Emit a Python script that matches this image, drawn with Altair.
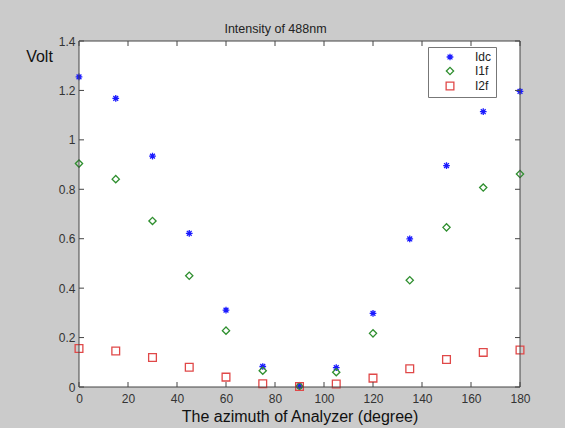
import altair as alt
import pandas as pd

angles = [0, 15, 30, 45, 60, 75, 90, 105, 120, 135, 150, 165, 180]
idc = [1.255, 1.168, 0.934, 0.622, 0.311, 0.083, 0.004, 0.078, 0.298, 0.599, 0.896, 1.114, 1.196]
i1f = [0.904, 0.841, 0.672, 0.450, 0.228, 0.066, 0.003, 0.060, 0.217, 0.432, 0.646, 0.807, 0.862]
i2f = [0.156, 0.146, 0.119, 0.080, 0.040, 0.013, 0.002, 0.012, 0.036, 0.074, 0.111, 0.140, 0.150]
series = ["Idc", "I1f", "I2f"]
colors = ["#1a1aff", "#2f8f2f", "#e04848"]
x_ticks = [0, 20, 40, 60, 80, 100, 120, 140, 160, 180]
y_ticks = [0, 0.2, 0.4, 0.6, 0.8, 1.0, 1.2, 1.4]

rows = []
for name, vals in zip(series, [idc, i1f, i2f]):
    for a, v in zip(angles, vals):
        rows.append({"angle": a, "volt": v, "series": name})
df = pd.DataFrame(rows)

W, H = 441, 346
FONT = "Liberation Sans"
asterisk = "M-1,0L1,0M0,-1L0,1M-0.72,-0.72L0.72,0.72M-0.72,0.72L0.72,-0.72"

xs = alt.Scale(domain=[0, 180], nice=False, zero=False)
ys = alt.Scale(domain=[0, 1.4], nice=False)

xaxis = alt.Axis(values=x_ticks, ticks=False, domain=False, grid=False, labelFlush=False,
                 labelPadding=6, labelFontSize=12, labelColor="#333", labelFont=FONT,
                 title="The azimuth of Analyzer (degree)", titleFontSize=16,
                 titleFont=FONT, titleFontWeight="normal", titleColor="#111",
                 titleY=34, titleBaseline="alphabetic")
yaxis = alt.Axis(values=y_ticks, ticks=False, domain=False, grid=False, format="~g",
                 labelFlush=False,
                 labelPadding=4, labelFontSize=12, labelColor="#333", labelFont=FONT,
                 title="Volt", titleAngle=0, titleX=-40, titleY=20,
                 titleAlign="center", titleBaseline="alphabetic",
                 titleFontSize=16, titleFont=FONT, titleFontWeight="normal",
                 titleColor="#111")

one = pd.DataFrame({"k": [0]})

points = alt.Chart(df).mark_point(filled=False, strokeWidth=1.3, opacity=1, clip=False).encode(
    x=alt.X("angle:Q", scale=xs, axis=xaxis),
    y=alt.Y("volt:Q", scale=ys, axis=yaxis),
    color=alt.Color("series:N", scale=alt.Scale(domain=series, range=colors),
                    legend=alt.Legend(orient="none", legendX=349, legendY=6, title=None,
                                      fillColor="white", strokeColor="#777", padding=4,
                                      labelFontSize=12, labelFont=FONT, labelColor="#222",
                                      symbolSize=45, symbolStrokeWidth=1.3, rowPadding=1,
                                      symbolOffset=12, labelOffset=19,
                                      labelExpr="datum.label + '\u00a0\u00a0'")),
    shape=alt.Shape("series:N", scale=alt.Scale(domain=series, range=[asterisk, "diamond", "square"]),
                    legend=None),
    size=alt.Size("series:N", scale=alt.Scale(domain=series, range=[45, 60, 56]), legend=None),
)

xt = pd.DataFrame({"angle": x_ticks})
yt = pd.DataFrame({"volt": y_ticks})
tick_col = "#444"
xb = alt.Chart(xt).mark_rule(color=tick_col).encode(
    x=alt.X("angle:Q", scale=xs, axis=xaxis), y=alt.value(H), y2=alt.value(H - 5))
xtop = alt.Chart(xt).mark_rule(color=tick_col).encode(
    x=alt.X("angle:Q", scale=xs, axis=xaxis), y=alt.value(0), y2=alt.value(5))
yl = alt.Chart(yt).mark_rule(color=tick_col).encode(
    y=alt.Y("volt:Q", scale=ys, axis=yaxis), x=alt.value(0), x2=alt.value(5))
yr = alt.Chart(yt).mark_rule(color=tick_col).encode(
    y=alt.Y("volt:Q", scale=ys, axis=yaxis), x=alt.value(W), x2=alt.value(W - 5))
frame = alt.Chart(one).mark_rect(fill=None, stroke="#444", strokeWidth=1).encode(
    x=alt.value(0), x2=alt.value(W), y=alt.value(0), y2=alt.value(H))

chart = alt.layer(points, xb, xtop, yl, yr, frame).properties(
    width=W, height=H,
    title=alt.TitleParams("Intensity of 488nm", fontSize=12.5, font=FONT, fontWeight="normal",
                          color="#222", anchor="middle", dx=-24, offset=0),
    autosize=alt.AutoSizeParams(type="none"),
    padding={"left": 79, "top": 41, "right": 45, "bottom": 41},
    background="#cbcbcb",
).configure_view(stroke=None, fill="white")

chart.save("out.html", embed_options={"renderer": "svg", "actions": False})
